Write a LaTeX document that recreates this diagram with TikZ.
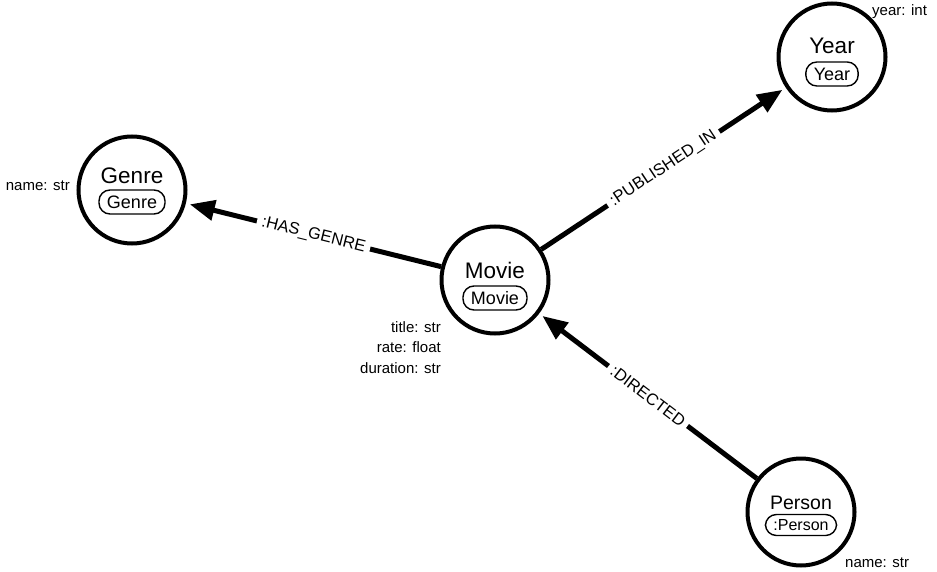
\documentclass[tikz,border=0pt]{standalone}
\usepackage{fontspec}
\setmainfont{Liberation Sans}
\usetikzlibrary{arrows.meta, positioning, calc}

\begin{document}
\begin{tikzpicture}[x=1pt, y=-1pt,
    entity/.style={circle, draw, line width=4pt, minimum size=107pt, inner sep=0pt},
    etitle/.style={inner sep=0pt, font=\fontsize{22.5}{25}\selectfont},
    pill/.style={draw, line width=1.4pt, rectangle, rounded corners=11pt, minimum height=24pt,
        inner xsep=8pt, inner ysep=0pt, font=\fontsize{18}{20}\selectfont},
    rel/.style={line width=5pt, -{Triangle[length=25pt, width=20pt]}, shorten >=4pt},
    rlabel/.style={fill=white, sloped, midway, inner sep=5pt, font=\fontsize{16.5}{18}\selectfont},
    attr/.style={inner sep=0pt, align=right, font=\fontsize{15}{20.5}\selectfont}]
\useasboundingbox (0,0) rectangle (937,572);

% Entities
\node[entity] (genre)  at (132,190) {};
\node[entity] (movie)  at (495,280) {};
\node[entity] (year)   at (832,57)  {};
\node[entity] (person) at (801,512) {};

% Titles and labels
\node[etitle] (genreT) at (132,176) {Genre};
\node[pill]   (genreL) at (132,202) {Genre};
\node[etitle] (movieT) at (495,270) {Movie};
\node[pill]   (movieL) at (495,298) {Movie};
\node[etitle] (yearT)  at (832,46)  {Year};
\node[pill]   (yearL)  at (832,74)  {Year};
\node[etitle, font=\fontsize{19.5}{22}\selectfont] (personT) at (801,503) {Person};
\node[pill, font=\fontsize{16}{18}\selectfont, minimum height=21pt] (personL) at (801,525) {:Person};

% Relationships
\draw[rel] (movie) -- node[rlabel] {:HAS\_GENRE} (genre);
\draw[rel] (movie) -- node[rlabel] {:PUBLISHED\_IN} (year);
\draw[rel] (person) -- node[rlabel] {:DIRECTED} (movie);

% Properties
\node[attr, anchor=east] (genreP) at (70,186) {name: str};
\node[attr, anchor=north east] (movieP) at (441,321) {title: str\\rate: float\\duration: str};
\node[attr, anchor=west] (yearP) at (872,12) {year: int};
\node[attr, anchor=west] (personP) at (845,563) {name: str};
\end{tikzpicture}
\end{document}
